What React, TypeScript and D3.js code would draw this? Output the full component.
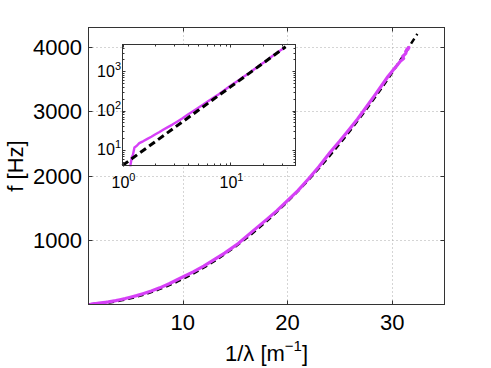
import React, { useRef, useEffect } from 'react';
import * as d3 from 'd3';

// measured curve: wavenumber 1/lambda [1/m] vs frequency [Hz]
const kData = [1.18, 1.22, 1.25, 1.29, 1.35, 1.43, 1.55, 1.7, 1.85, 2.0, 2.2, 2.4, 2.63, 2.9, 3.2, 3.6, 4.0, 4.5, 5.0, 5.6,
  6.2, 7.0, 7.8, 8.7, 10, 11, 12, 13, 14, 15.3, 16.6, 18, 19, 20, 21, 22, 23, 24.1, 25, 25.8, 26.7, 27.5, 28.3, 29,
  29.6, 30.1, 30.5, 30.8, 31.1, 31.0, 31.3, 31.4, 31.6, 31.5, 31.3];
const fData = [3.8, 6.5, 7.5, 11.5, 12.5, 14.8, 16.5, 19, 21.5, 24.5, 28.5, 33, 38, 44, 52, 64, 78, 96, 116, 142,
  172, 215, 262, 325, 430, 510, 600, 700, 800, 950, 1130, 1320, 1460, 1615, 1770, 1950, 2140, 2370, 2540, 2700, 2880, 3060, 3240, 3400,
  3540, 3640, 3720, 3780, 3820, 3850, 3900, 3960, 3990, 3960, 3930];

// dashed reference line
const fitK = [1, 2, 3, 5, 7, 10, 13, 16, 19, 22, 25, 28, 30, 32.4];
const fitF = [4, 16, 36, 100, 196, 400, 676, 1024, 1444, 1936, 2500, 3136, 3600, 4200];

const mainXTicks = [10, 20, 30];
const mainYTicks = [1000, 2000, 3000, 4000];
const insetXTicks = [1, 10];
const insetYTicks = [10, 100, 1000];

const W = 491, H = 368;
const FONT = '"Liberation Sans", Arial, Helvetica, sans-serif';
const MAGENTA = '#d640f7';
const AXIS = '#333';

const App = () => {
  const ref = useRef<SVGSVGElement>(null);

  useEffect(() => {
    const svg = d3.select(ref.current);
    svg.selectAll('*').remove();

    const pts: [number, number][] = kData.map((k, i) => [k, fData[i]]);
    const fit: [number, number][] = fitK.map((k, i) => [k, fitF[i]]);

    svg.append('rect').attr('width', W).attr('height', H).attr('fill', '#fff');

    // ---- main axes ----
    const x = d3.scaleLinear().domain([1, 35]).range([88.5, 444.5]);
    const y = d3.scaleLinear().domain([4, 4300]).range([304.5, 27.5]);
    const [xa, xb] = x.range();
    const [ya, yb] = y.range();

    const grid = svg.append('g')
      .attr('stroke', '#aaa')
      .attr('stroke-width', 1)
      .attr('stroke-dasharray', '1,3');
    grid.selectAll('.gx').data(mainXTicks).enter().append('line')
      .attr('x1', (d) => Math.round(x(d)) + 0.5).attr('x2', (d) => Math.round(x(d)) + 0.5)
      .attr('y1', ya).attr('y2', yb);
    grid.selectAll('.gy').data(mainYTicks).enter().append('line')
      .attr('y1', (d) => Math.round(y(d)) + 0.5).attr('y2', (d) => Math.round(y(d)) + 0.5)
      .attr('x1', xa).attr('x2', xb);

    svg.append('clipPath').attr('id', 'mainclip')
      .append('rect').attr('x', xa).attr('y', yb).attr('width', xb - xa).attr('height', ya - yb);

    const mainLine = d3.line<[number, number]>().x((d) => x(d[0])).y((d) => y(d[1]));
    const plot = svg.append('g').attr('clip-path', 'url(#mainclip)');
    plot.append('path')
      .attr('d', mainLine.curve(d3.curveCatmullRom)(fit))
      .attr('fill', 'none').attr('stroke', '#000').attr('stroke-width', 2.5)
      .attr('stroke-dasharray', '6,4');
    plot.append('path')
      .attr('d', mainLine.curve(d3.curveLinear)(pts))
      .attr('fill', 'none').attr('stroke', MAGENTA).attr('stroke-width', 3.2)
      .attr('stroke-linejoin', 'round').attr('stroke-linecap', 'round');

    svg.append('rect')
      .attr('x', xa).attr('y', yb).attr('width', xb - xa).attr('height', ya - yb)
      .attr('fill', 'none').attr('stroke', AXIS).attr('stroke-width', 1);

    const ticks = svg.append('g').attr('stroke', AXIS).attr('stroke-width', 1);
    mainXTicks.forEach((t) => {
      const px = Math.round(x(t)) + 0.5;
      ticks.append('line').attr('x1', px).attr('x2', px).attr('y1', ya).attr('y2', ya - 4);
      ticks.append('line').attr('x1', px).attr('x2', px).attr('y1', yb).attr('y2', yb + 4);
    });
    mainYTicks.forEach((t) => {
      const py = Math.round(y(t)) + 0.5;
      ticks.append('line').attr('y1', py).attr('y2', py).attr('x1', xa).attr('x2', xa + 4);
      ticks.append('line').attr('y1', py).attr('y2', py).attr('x1', xb).attr('x2', xb - 4);
    });

    const labels = svg.append('g').attr('font-family', FONT).attr('font-size', 22).attr('fill', '#000');
    labels.selectAll('.xl').data(mainXTicks).enter().append('text')
      .attr('x', (d) => x(d)).attr('y', 330).attr('text-anchor', 'middle')
      .text((d) => d);
    labels.selectAll('.yl').data(mainYTicks).enter().append('text')
      .attr('x', 82).attr('y', (d) => y(d) + 8).attr('text-anchor', 'end')
      .text((d) => d);

    const xt = labels.append('text').attr('x', (xa + xb) / 2).attr('y', 361).attr('text-anchor', 'middle');
    xt.append('tspan').text('1/λ [m');
    xt.append('tspan').attr('font-size', 15).attr('dy', -10).text('−1');
    xt.append('tspan').attr('dy', 10).text(']');

    labels.append('text')
      .attr('transform', `translate(23,${(ya + yb) / 2}) rotate(-90)`)
      .attr('text-anchor', 'middle')
      .text('f [Hz]');

    // ---- inset (log-log) ----
    const ix = d3.scaleLog().domain([1, 40]).range([122.5, 295.5]);
    const iy = d3.scaleLog().domain([4, 4800]).range([165.5, 44.5]);
    const [ixa, ixb] = ix.range();
    const [iya, iyb] = iy.range();

    svg.append('rect')
      .attr('x', ixa).attr('y', iyb).attr('width', ixb - ixa).attr('height', iya - iyb)
      .attr('fill', '#fff');

    const insetLine = d3.line<[number, number]>().x((d) => ix(d[0])).y((d) => iy(d[1]));
    svg.append('path')
      .attr('d', insetLine(pts))
      .attr('fill', 'none').attr('stroke', MAGENTA).attr('stroke-width', 2.4)
      .attr('stroke-linejoin', 'round');
    svg.append('path')
      .attr('d', insetLine(fit))
      .attr('fill', 'none').attr('stroke', '#000').attr('stroke-width', 3)
      .attr('stroke-dasharray', '7,4');

    svg.append('rect')
      .attr('x', ixa).attr('y', iyb).attr('width', ixb - ixa).attr('height', iya - iyb)
      .attr('fill', 'none').attr('stroke', AXIS).attr('stroke-width', 1);

    const iticks = svg.append('g').attr('stroke', AXIS).attr('stroke-width', 1);
    const xMinor = [2, 3, 4, 5, 6, 7, 8, 9, 20, 30];
    const yMinor = [5, 6, 7, 8, 9, 20, 30, 40, 50, 60, 70, 80, 90, 200, 300, 400, 500, 600, 700, 800, 900, 2000, 3000, 4000];
    [...insetXTicks.map((t) => [t, 3]), ...xMinor.map((t) => [t, 2])].forEach(([t, len]) => {
      const px = Math.round(ix(t)) + 0.5;
      iticks.append('line').attr('x1', px).attr('x2', px).attr('y1', iya).attr('y2', iya - len);
      iticks.append('line').attr('x1', px).attr('x2', px).attr('y1', iyb).attr('y2', iyb + len);
    });
    [...insetYTicks.map((t) => [t, 3]), ...yMinor.map((t) => [t, 2])].forEach(([t, len]) => {
      const py = Math.round(iy(t)) + 0.5;
      iticks.append('line').attr('y1', py).attr('y2', py).attr('x1', ixa).attr('x2', ixa + len);
      iticks.append('line').attr('y1', py).attr('y2', py).attr('x1', ixb).attr('x2', ixb - len);
    });

    const ilabels = svg.append('g').attr('font-family', FONT).attr('font-size', 16).attr('fill', '#000');
    insetXTicks.forEach((t) => {
      const tx = ilabels.append('text').attr('x', ix(t) + 1).attr('y', 188).attr('text-anchor', 'middle');
      tx.append('tspan').text('10');
      tx.append('tspan').attr('font-size', 11).attr('dy', -7).text(String(Math.round(Math.log10(t))));
    });
    insetYTicks.forEach((t) => {
      const ty = ilabels.append('text').attr('x', 121).attr('y', iy(t) + 5.5).attr('text-anchor', 'end');
      ty.append('tspan').text('10');
      ty.append('tspan').attr('font-size', 11).attr('dy', -7).text(String(Math.round(Math.log10(t))));
    });
  }, []);

  return <svg ref={ref} width={W} height={H} style={{ position: 'absolute', left: 0, top: 0 }} />;
};

export default App;
